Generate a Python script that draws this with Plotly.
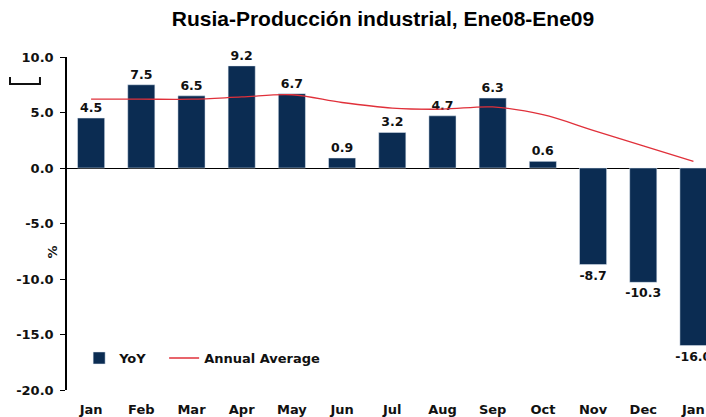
import plotly.graph_objects as go

months = ["Jan", "Feb", "Mar", "Apr", "May", "Jun", "Jul", "Aug", "Sep", "Oct", "Nov", "Dec", "Jan"]
yoy = [4.5, 7.5, 6.5, 9.2, 6.7, 0.9, 3.2, 4.7, 6.3, 0.6, -8.7, -10.3, -16.0]
annual_avg = [6.2, 6.2, 6.2, 6.4, 6.6, 5.9, 5.4, 5.3, 5.5, 4.8, 3.4, 2.0, 0.6]
yticks = [10, 5, 0, -5, -10, -15, -20]

xpos = list(range(len(months)))
navy = "#0B2C52"
red = "#E0303A"
font_fam = "DejaVu Sans, Verdana, sans-serif"

fig = go.Figure()
fig.add_trace(go.Bar(
    x=xpos, y=yoy, name="<b>YoY</b>&nbsp;&nbsp;&nbsp;", marker_color=navy, width=0.54,
    text=[f"<b>{v:.1f}</b>" for v in yoy], textposition="outside",
    constraintext="none",
    textfont=dict(size=12.5, color="#111", family=font_fam),
    cliponaxis=False,
))
fig.add_trace(go.Scatter(
    x=xpos, y=annual_avg, name="<b>Annual Average</b>", mode="lines",
    line=dict(color=red, width=1.3, shape="spline"),
))

fig.update_layout(
    width=706, height=417,
    margin=dict(l=67, r=0, t=57, b=27, autoexpand=False),
    paper_bgcolor="white", plot_bgcolor="white",
    title=dict(text="<b>Rusia-Producción industrial, Ene08-Ene09</b>",
               x=383 / 706, xanchor="center", y=1 - 19 / 417, yanchor="middle",
               font=dict(family="Liberation Sans, Arial, sans-serif", size=21, color="#000")),
    showlegend=True,
    legend=dict(orientation="h", x=0.019, y=0.096, xanchor="left", yanchor="middle",
                font=dict(family=font_fam, size=13, color="#111"),
                bgcolor="rgba(0,0,0,0)", itemwidth=30, tracegroupgap=0),
    bargap=0.46,
    font=dict(family=font_fam, size=12, color="#111"),
)
fig.update_xaxes(
    range=[-0.48, 12.25], tickmode="array", tickvals=xpos,
    ticktext=[f"<b>{m}</b>" for m in months], automargin=False,
    showline=False, showgrid=False, zeroline=False, ticks="",
    ticklabelstandoff=10,
    tickfont=dict(size=13, color="#111", family=font_fam),
)
fig.update_yaxes(
    range=[-20, 10], tickmode="array", tickvals=yticks, automargin=False,
    ticktext=[f"<b>{v:.1f}</b>" for v in yticks],
    showline=True, linecolor="#000", linewidth=1.5, ticks="outside", ticklen=5,
    tickcolor="#000", showgrid=False,
    zeroline=True, zerolinecolor="#000", zerolinewidth=1,
    ticklabelstandoff=4,
    tickfont=dict(size=13, color="#111", family=font_fam),
)
# small bracket glyph at top-left (axis-title remnant)
fig.add_shape(type="path", xref="x domain", yref="y domain",
              path="M -0.0892 0.94 L -0.0892 0.919 L -0.0423 0.919 L -0.0423 0.94",
              line=dict(color="#111", width=2))
fig.add_annotation(text="<b>%</b>", textangle=-90, xref="x domain", yref="y domain",
                   x=(42 - 67) / 639, y=(390 - 252) / 333, showarrow=False,
                   font=dict(size=13, color="#111"))

fig.write_html("out.html", config={"displayModeBar": False},
               post_script="document.body.style.margin='0';document.body.style.overflow='hidden';")
